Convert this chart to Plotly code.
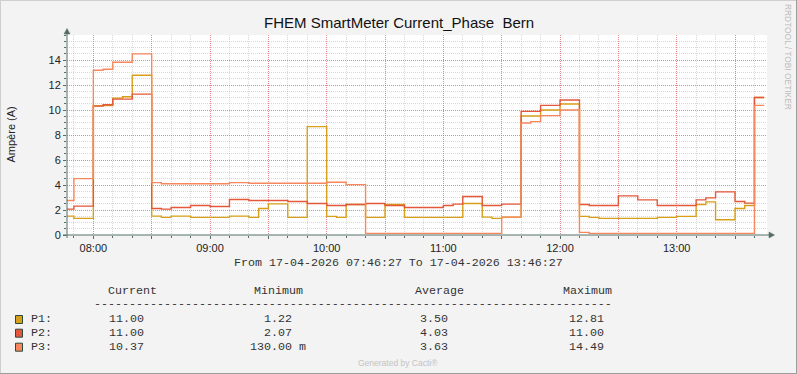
import plotly.graph_objects as go

DAY = "2026-04-17 "

# ---- data (step change points, value holds until next time) ----
p1_times = ["07:45", "07:50", "08:00", "08:10", "08:15", "08:20", "08:30", "08:35", "08:40", "08:50",
            "09:10", "09:20", "09:25", "09:30", "09:40", "09:50", "10:00", "10:05", "10:10", "10:20",
            "10:30", "10:40", "11:10", "11:20", "11:25", "11:30", "11:40", "11:50", "12:00", "12:10",
            "12:15", "12:20", "12:50", "13:00", "13:10", "13:15", "13:20", "13:30", "13:35", "13:40", "13:45"]
p1_vals = [1.51, 1.33, 10.35, 10.95, 11.06, 12.78, 1.51, 1.41, 1.51, 1.41,
           1.51, 1.41, 2.12, 2.49, 1.41, 8.67, 1.49, 1.41, 2.44, 1.41,
           2.44, 1.41, 2.52, 1.43, 1.33, 1.43, 9.52, 10.0, 10.48, 1.49,
           1.41, 1.33, 1.41, 1.49, 2.44, 2.65, 1.22, 2.12, 2.36, 11.0, 11.0]

p2_times = ["07:45", "07:50", "08:00", "08:05", "08:10", "08:20", "08:30", "08:35", "08:40", "08:50",
            "09:00", "09:10", "09:20", "09:40", "09:50", "10:00", "10:10", "10:20", "10:30", "10:40",
            "11:00", "11:05", "11:10", "11:20", "11:30", "11:40", "11:50", "12:00", "12:10", "12:15",
            "12:30", "12:40", "12:50", "13:10", "13:15", "13:20", "13:30", "13:35", "13:40", "13:45"]
p2_vals = [2.07, 2.31, 10.31, 10.42, 10.87, 11.27, 2.12, 2.07, 2.2, 2.36,
           2.28, 2.84, 2.76, 2.68, 2.52, 2.36, 2.44, 2.52, 2.36, 2.2,
           2.36, 2.47, 3.08, 2.36, 2.47, 9.89, 10.37, 10.8, 2.44, 2.36,
           3.13, 2.81, 2.36, 2.81, 2.97, 3.45, 2.68, 2.55, 11.0, 11.0]

p3_times = ["07:45", "07:50", "08:00", "08:05", "08:10", "08:20", "08:30", "08:35", "09:10", "09:20",
            "10:00", "10:10", "10:20", "11:30", "11:40", "11:45", "11:50", "12:00", "12:10", "12:15",
            "13:40", "13:45"]
p3_vals = [2.76, 4.51, 13.18, 13.26, 13.82, 14.49, 4.19, 4.1, 4.19, 4.14,
           4.22, 4.03, 0.13, 1.43, 8.96, 9.07, 9.55, 10.0, 0.21, 0.13,
           10.37, 10.37]

series_names = ["P1", "P2", "P3"]
series_colors = ["#D8A01A", "#E4573A", "#F7875C"]
stat_headers = ["Current", "Minimum", "Average", "Maximum"]
stat_rows = [
    ["11.00", "1.22", "3.50", "12.81"],
    ["11.00", "2.07", "4.03", "11.00"],
    ["10.37", "130.00 m", "3.63", "14.49"],
]
x_start = "07:46:27"
x_end = "13:46:27"
hour_ticks = ["08:00", "08:30", "09:00", "09:30", "10:00", "10:30", "11:00", "11:30",
              "12:00", "12:30", "13:00", "13:30"]
y_ticks = [0, 2, 4, 6, 8, 10, 12, 14]

# ---- geometry ----
W, H = 797, 374
L, R, T, B = 67, 30, 35, 139
PW, PH = W - L - R, H - T - B


def xp(px):
    return (px - L) / PW


def yp(py):
    return (H - B - py) / PH


MONO = "Liberation Mono"
SANS = "Liberation Sans"
AXC = "#546E66"
MAJOR = "rgba(228,90,90,0.62)"
MINOR = "rgba(165,165,165,0.42)"

fig = go.Figure()
for name, color, tt, vv in zip(series_names, series_colors,
                              [p1_times, p2_times, p3_times], [p1_vals, p2_vals, p3_vals]):
    fig.add_trace(go.Scatter(
        x=[DAY + t for t in tt], y=vv, mode="lines", name=name,
        line=dict(color=color, width=1.4, shape="hv"), showlegend=False))

fig.update_layout(
    width=W, height=H,
    margin=dict(l=L, r=R, t=T, b=B, pad=0),
    paper_bgcolor="#F3F3F3", plot_bgcolor="#FFFFFF",
    xaxis=dict(
        range=[DAY + x_start, DAY + x_end], type="date",
        tickvals=[DAY + t for t in hour_ticks],
        ticktext=[t if t.endswith(":00") else "" for t in hour_ticks],
        showgrid=True, gridcolor=MAJOR, griddash="1px,1px", gridwidth=1,
        ticks="outside", ticklen=3, tickcolor=AXC,
        minor=dict(dtick=600000, tick0=DAY + "08:00", showgrid=True,
                   gridcolor=MINOR, griddash="1px,1px",
                   ticks="outside", ticklen=2, tickcolor=AXC),
        tickfont=dict(family=SANS, size=11, color="#222222"),
        showline=False, zeroline=False, fixedrange=True,
    ),
    yaxis=dict(
        range=[0, 16], tickvals=y_ticks,
        showgrid=True, gridcolor=MAJOR, griddash="1px,1px", gridwidth=1,
        ticks="outside", ticklen=3, tickcolor=AXC,
        minor=dict(dtick=0.5, showgrid=True, gridcolor=MINOR,
                   griddash="1px,1px", ticks="outside", ticklen=2, tickcolor=AXC),
        tickfont=dict(family=SANS, size=11, color="#222222"),
        showline=False, zeroline=False, fixedrange=True,
    ),
)

shapes = []
# axes with arrows
shapes.append(dict(type="line", xref="paper", yref="paper", x0=xp(67), x1=xp(67),
                   y0=yp(238), y1=yp(32), line=dict(color=AXC, width=1)))
shapes.append(dict(type="path", xref="paper", yref="paper",
                   path=f"M {xp(67)},{yp(28.5)} L {xp(64)},{yp(34)} L {xp(70)},{yp(34)} Z",
                   fillcolor=AXC, line=dict(color=AXC, width=0.5)))
shapes.append(dict(type="line", xref="paper", yref="paper", x0=xp(63), x1=xp(771),
                   y0=yp(235), y1=yp(235), line=dict(color=AXC, width=1)))
shapes.append(dict(type="path", xref="paper", yref="paper",
                   path=f"M {xp(774.5)},{yp(235)} L {xp(769)},{yp(232)} L {xp(769)},{yp(238)} Z",
                   fillcolor=AXC, line=dict(color=AXC, width=0.5)))
# frame
shapes.append(dict(type="line", xref="paper", yref="paper", x0=xp(0), x1=xp(797),
                   y0=yp(0.5), y1=yp(0.5), line=dict(color="#CFCFCF", width=1)))
shapes.append(dict(type="line", xref="paper", yref="paper", x0=xp(0.5), x1=xp(0.5),
                   y0=yp(0), y1=yp(374), line=dict(color="#CFCFCF", width=1)))
shapes.append(dict(type="line", xref="paper", yref="paper", x0=xp(796.5), x1=xp(796.5),
                   y0=yp(0), y1=yp(374), line=dict(color="#9E9E9E", width=1)))
shapes.append(dict(type="line", xref="paper", yref="paper", x0=xp(0), x1=xp(797),
                   y0=yp(373.5), y1=yp(373.5), line=dict(color="#9E9E9E", width=1)))

row_y = [319, 332.7, 346.7]
for color, ry in zip(series_colors, row_y):
    shapes.append(dict(type="rect", xref="paper", yref="paper",
                       x0=xp(15.5), x1=xp(22.5), y0=yp(ry - 3.5), y1=yp(ry + 4.5),
                       fillcolor=color, line=dict(color="#2E4A3E", width=1)))
fig.update_layout(shapes=shapes)

ann = []


def text(px, py, s, size, family, color="#222222", xanchor="center", angle=0):
    ann.append(dict(x=xp(px), y=yp(py), xref="paper", yref="paper", text=s, showarrow=False,
                    xanchor=xanchor, yanchor="middle", textangle=angle, borderpad=0,
                    font=dict(family=family, size=size, color=color)))


text(398.5, 22, "FHEM SmartMeter Current_Phase\u00a0 Bern", 15, SANS, "#111111")
text(10.5, 135, "Ampère (A)", 11, SANS, "#222222", angle=-90)
text(788, 57, "RRDTOOL / TOBI OETIKER", 8.4, SANS, "#BDBDBD", angle=90)
text(398.4, 263, f"From 17-04-2026 {x_start} To 17-04-2026 {x_end}", 11.67, MONO, "#333333")

header_left = [106.5, 253, 414.2, 561.5]
for hx, h in zip(header_left, stat_headers):
    text(hx, 291, h, 11.67, MONO, "#333333", xanchor="left")
text(352.6, 304, "-" * 74, 11.67, MONO, "#333333")

col_right = [144.6, 293.2, 449.3, 604.6]
for name, ry, row in zip(series_names, row_y, stat_rows):
    text(29.5, ry, name + ":", 11.67, MONO, "#333333", xanchor="left")
    for cx, v in zip(col_right, row):
        if v.endswith(" m"):
            text(cx + 14, ry, v, 11.67, MONO, "#333333", xanchor="right")
        else:
            text(cx, ry, v, 11.67, MONO, "#333333", xanchor="right")

text(398.4, 363, "Generated by Cacti®", 8.5, SANS, "#C3C3C3")
fig.update_layout(annotations=ann)

fig.write_html("out.html")
